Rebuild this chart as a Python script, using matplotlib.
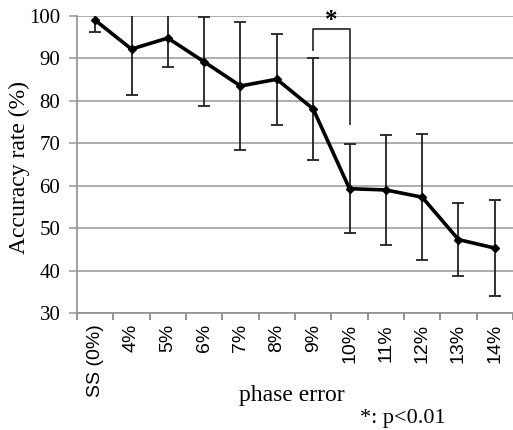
import matplotlib
matplotlib.use("Agg")
import matplotlib.pyplot as plt
import numpy as np

categories = ["SS (0%)", "4%", "5%", "6%", "7%", "8%", "9%", "10%", "11%", "12%", "13%", "14%"]
accuracy = [99.0, 92.2, 94.8, 89.2, 83.5, 85.1, 78.1, 59.3, 59.0, 57.3, 47.3, 45.3]
sd = [2.7, 10.8, 6.8, 10.5, 15.2, 10.7, 12.1, 10.5, 12.9, 14.9, 8.6, 11.3]
yticks = [30, 40, 50, 60, 70, 80, 90, 100]

plt.rcParams['font.family'] = ['Liberation Serif', 'DejaVu Serif']

fig = plt.figure(figsize=(5.13, 4.30), dpi=100)
ax = fig.add_axes([77/513, 117/430, 436/513, 297/430])

x = np.arange(len(categories))
ax.errorbar(x, accuracy, yerr=sd, fmt='none', ecolor='#222222', elinewidth=1.3,
            capsize=4, capthick=1.3, zorder=3)
ax.plot(x, accuracy, color='black', lw=2.6, marker='D', ms=4, zorder=4)

ax.set_xlim(-0.5, len(categories) - 0.5)
ax.set_ylim(30, 100)
ax.set_yticks(yticks)
ax.set_yticklabels([str(v) for v in yticks], fontsize=15)
ax.yaxis.grid(True, color='#a0a0a0', lw=1.2)
ax.set_axisbelow(True)

ax.set_xticks(x)
ax.set_xticklabels(categories, rotation=90, fontsize=14,
                   family=['Liberation Sans', 'DejaVu Sans'])
ax.set_xticks(np.arange(-0.5, len(categories), 1), minor=True)
ax.tick_params(axis='x', which='major', length=0, pad=8)
ax.tick_params(axis='x', which='minor', length=5, color='#808080', width=1.2)
ax.tick_params(axis='y', length=6, color='#a0a0a0', width=1.2, pad=6)

for s in ['top', 'right']:
    ax.spines[s].set_visible(False)
for s in ['left', 'bottom']:
    ax.spines[s].set_color('#909090')
    ax.spines[s].set_linewidth(1.2)

ax.set_ylabel("Accuracy rate (%)", fontsize=17, va='center')
ax.yaxis.set_label_coords(-0.131, 0.49)
fig.text(292/513, 1 - 396/430, "phase error", fontsize=17, ha='center', va='center')
fig.text(403/513, 1 - 418/430, "*: p<0.01", fontsize=16, ha='center', va='center')

# significance bracket between 9% and 10%
ax.plot([6, 6, 7, 7], [92, 96.9, 96.9, 74.5], color='#333333', lw=1.3, clip_on=False, zorder=5)
ax.text(6.5, 99.0, "*", fontsize=18, fontweight='bold', ha='center', va='center', clip_on=False)

fig.savefig("out.png", dpi=100)
